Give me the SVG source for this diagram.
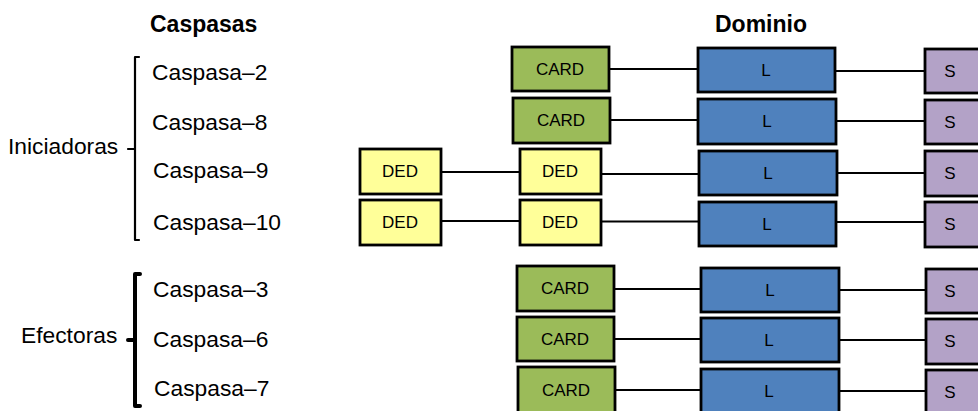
<svg xmlns="http://www.w3.org/2000/svg" width="978" height="411" viewBox="0 0 978 411">
<style>
  text { font-family: "Liberation Sans", Arial, sans-serif; fill: #000; }
  .hdr { font-size: 23px; font-weight: bold; }
  .lbl { font-size: 22.8px; }
  .box { stroke: #000; stroke-width: 2.8; }
  .card { fill: #9BBB59; }
  .ded { fill: #FFFF99; }
  .l { fill: #4F81BD; }
  .s { fill: #B3A2C7; }
  .bt { font-size: 17px; text-anchor: middle; }
  .conn line { stroke: #000; stroke-width: 2.2; }
  .br { fill: none; stroke: #000; stroke-linecap: round; stroke-linejoin: round; }
</style>
<rect width="978" height="411" fill="#fff"/>

<g id="headers">
  <text class="hdr" x="150" y="32">Caspasas</text>
  <text class="hdr" x="715" y="32">Dominio</text>
</g>

<g id="groups">
  <text class="lbl" x="8" y="154">Iniciadoras</text>
  <path class="br" stroke-width="2.2" d="M139,57 L135,57 L135,240 L139,240 M128,149 L135,149"/>
  <text class="lbl" x="21" y="343">Efectoras</text>
  <path class="br" stroke-width="4" d="M140,274 L135,274 L135,406 L140,406 M128,340 L135,340"/>
</g>

<g id="names">
  <text class="lbl" x="152" y="80">Caspasa–2</text>
  <text class="lbl" x="152" y="130">Caspasa–8</text>
  <text class="lbl" x="153" y="178">Caspasa–9</text>
  <text class="lbl" x="153" y="230">Caspasa–10</text>
  <text class="lbl" x="153" y="297">Caspasa–3</text>
  <text class="lbl" x="153" y="347">Caspasa–6</text>
  <text class="lbl" x="154" y="396">Caspasa–7</text>
</g>

<g class="conn" id="connectors">
  <line x1="609" y1="69" x2="698" y2="69"/>
  <line x1="835" y1="71" x2="925" y2="71"/>
  <line x1="610" y1="120" x2="698" y2="120"/>
  <line x1="836" y1="121" x2="925" y2="121"/>
  <line x1="441" y1="172" x2="520" y2="172"/>
  <line x1="601" y1="174" x2="699" y2="174"/>
  <line x1="837" y1="173" x2="925" y2="173"/>
  <line x1="441" y1="221" x2="520" y2="221"/>
  <line x1="601" y1="221.5" x2="699" y2="221.5"/>
  <line x1="836" y1="222" x2="925" y2="222"/>
  <line x1="614" y1="289" x2="701" y2="289"/>
  <line x1="839" y1="290" x2="926" y2="290"/>
  <line x1="614" y1="339" x2="701" y2="339"/>
  <line x1="839" y1="340" x2="926" y2="340"/>
  <line x1="615" y1="390" x2="701" y2="390"/>
  <line x1="839" y1="391" x2="926" y2="391"/>
</g>

<g id="row1">
  <g id="c2-card"><rect class="box card" x="512" y="47" width="97" height="44"/><text class="bt" x="560" y="75">CARD</text></g>
  <g id="c2-l"><rect class="box l" x="698" y="48" width="137" height="44"/><text class="bt" x="766" y="76">L</text></g>
  <g id="c2-s"><rect class="box s" x="925" y="49" width="60" height="44"/><text class="bt" x="950" y="77">S</text></g>
</g>
<g id="row2">
  <g id="c8-card"><rect class="box card" x="513" y="98" width="97" height="45"/><text class="bt" x="561" y="126">CARD</text></g>
  <g id="c8-l"><rect class="box l" x="698" y="99" width="138" height="45"/><text class="bt" x="767" y="127">L</text></g>
  <g id="c8-s"><rect class="box s" x="925" y="100" width="60" height="44"/><text class="bt" x="950" y="128">S</text></g>
</g>
<g id="row3">
  <g id="c9-ded1"><rect class="box ded" x="360" y="149" width="81" height="45"/><text class="bt" x="400" y="177">DED</text></g>
  <g id="c9-ded2"><rect class="box ded" x="520" y="149" width="81" height="45"/><text class="bt" x="560" y="177">DED</text></g>
  <g id="c9-l"><rect class="box l" x="699" y="151" width="138" height="44"/><text class="bt" x="768" y="179">L</text></g>
  <g id="c9-s"><rect class="box s" x="925" y="151" width="60" height="45"/><text class="bt" x="950" y="179">S</text></g>
</g>
<g id="row4">
  <g id="c10-ded1"><rect class="box ded" x="360" y="200" width="81" height="45"/><text class="bt" x="400" y="228">DED</text></g>
  <g id="c10-ded2"><rect class="box ded" x="520" y="200" width="81" height="45"/><text class="bt" x="560" y="228">DED</text></g>
  <g id="c10-l"><rect class="box l" x="699" y="202" width="137" height="44"/><text class="bt" x="767" y="230">L</text></g>
  <g id="c10-s"><rect class="box s" x="925" y="202" width="60" height="45"/><text class="bt" x="950" y="230">S</text></g>
</g>
<g id="row5">
  <g id="c3-card"><rect class="box card" x="517" y="266" width="97" height="45"/><text class="bt" x="565" y="294">CARD</text></g>
  <g id="c3-l"><rect class="box l" x="701" y="268" width="138" height="44"/><text class="bt" x="770" y="296">L</text></g>
  <g id="c3-s"><rect class="box s" x="926" y="269" width="60" height="44"/><text class="bt" x="950" y="297">S</text></g>
</g>
<g id="row6">
  <g id="c6-card"><rect class="box card" x="517" y="317" width="97" height="44"/><text class="bt" x="565" y="345">CARD</text></g>
  <g id="c6-l"><rect class="box l" x="701" y="318" width="138" height="44"/><text class="bt" x="769" y="346">L</text></g>
  <g id="c6-s"><rect class="box s" x="926" y="319" width="60" height="45"/><text class="bt" x="950" y="347">S</text></g>
</g>
<g id="row7">
  <g id="c7-card"><rect class="box card" x="518" y="367" width="97" height="46"/><text class="bt" x="566" y="396">CARD</text></g>
  <g id="c7-l"><rect class="box l" x="701" y="369" width="138" height="46"/><text class="bt" x="769" y="397">L</text></g>
  <g id="c7-s"><rect class="box s" x="926" y="370" width="60" height="46"/><text class="bt" x="950" y="398">S</text></g>
</g>
</svg>
